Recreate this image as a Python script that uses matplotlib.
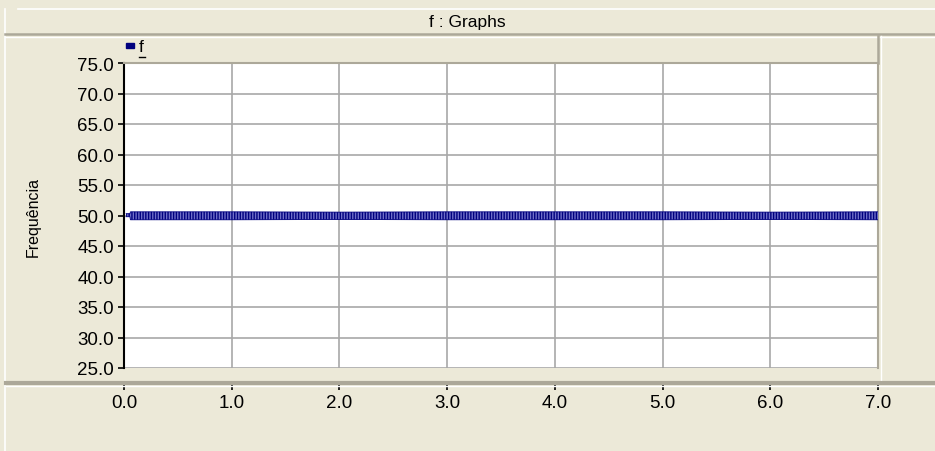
import matplotlib
matplotlib.use("Agg")
import matplotlib.pyplot as plt
from matplotlib.lines import Line2D
from matplotlib.patches import Rectangle

plt.rcParams['font.family'] = ['Liberation Sans', 'DejaVu Sans']

# ---- data ----
title = "f : Graphs"
series_name = "f"
y_label = "Frequência"
x_ticks = [0.0, 1.0, 2.0, 3.0, 4.0, 5.0, 6.0, 7.0]
y_ticks = [25.0, 30.0, 35.0, 40.0, 45.0, 50.0, 55.0, 60.0, 65.0, 70.0, 75.0]
# envelope of the fast oscillation of f around 50 Hz
t_env = [0.02, 0.055, 0.06, 1.0, 2.0, 3.0, 4.0, 5.0, 6.0, 7.0]
f_upper = [50.3, 50.3, 50.6, 50.6, 50.55, 50.6, 50.6, 50.6, 50.55, 50.6]
f_lower = [49.8, 49.8, 49.3, 49.3, 49.35, 49.3, 49.3, 49.3, 49.35, 49.3]

BG = '#ECE9D8'
EDGE = '#ACA899'
NAVY = '#00007E'

W, H = 935, 452
PT = 72 / 100  # points per pixel at dpi 100
fig = plt.figure(figsize=(W / 100, H / 100), dpi=100, facecolor=BG)

def fx(px):
    return px / W

def fy(py):
    return 1 - py / H

# panel decorations (3D look)
fig.add_artist(Line2D([fx(18), fx(935)], [fy(10), fy(10)], color='white', lw=1.2))
fig.add_artist(Line2D([fx(5), fx(5)], [fy(10), fy(452)], color='white', lw=1.2))
fig.add_artist(Line2D([fx(5), fx(935)], [fy(35), fy(35)], color=EDGE, lw=1.8))
fig.add_artist(Line2D([fx(5), fx(935)], [fy(37.5), fy(37.5)], color='white', lw=1.0))
fig.add_artist(Line2D([fx(878), fx(878)], [fy(37), fy(64)], color=EDGE, lw=1.8))
fig.add_artist(Line2D([fx(880.5), fx(880.5)], [fy(37), fy(382)], color='white', lw=1.0))
fig.add_artist(Line2D([fx(6), fx(935)], [fy(384), fy(384)], color=EDGE, lw=3.0))
fig.add_artist(Line2D([fx(6), fx(935)], [fy(386.5), fy(386.5)], color='white', lw=1.0))

fig.text(0.5, fy(23), title, ha='center', va='center', fontsize=12.5, color='black')

# legend entry
fig.add_artist(Rectangle((fx(126), fy(49)), fx(8), 5 / H, color=NAVY))
fig.text(fx(138.5), fy(48), series_name, ha='left', va='center', fontsize=12.5, color='black')
fig.add_artist(Line2D([fx(138.5), fx(145)], [fy(58), fy(58)], color='black', lw=1.0))

# main axes
ax = fig.add_axes([fx(124), fy(369), fx(878 - 124), (369 - 64) / H])
ax.set_facecolor('white')
ax.set_xlim(0, 7)
ax.set_ylim(25, 75)

plt.rcParams['hatch.linewidth'] = 1.0
ax.fill_between(t_env, f_lower, f_upper, facecolor='#7070C8', edgecolor=NAVY,
                hatch='|' * 6, linewidth=0.0, zorder=3)
ax.plot(t_env, f_upper, color=NAVY, lw=0.6, zorder=4)
ax.plot(t_env, f_lower, color=NAVY, lw=0.6, zorder=4)

ax.set_xticks(x_ticks)
ax.set_xticklabels([f"{v:.1f}" for v in x_ticks])
ax.set_yticks(y_ticks)
ax.set_yticklabels([f"{v:.1f}" for v in y_ticks])
ax.grid(True, color='#A8A8A8', lw=1.2)
ax.set_axisbelow(True)

for s in ['top', 'right']:
    ax.spines[s].set_color(EDGE)
    ax.spines[s].set_linewidth(1.5)
ax.spines['left'].set_color('black')
ax.spines['left'].set_linewidth(1.5)
ax.spines['bottom'].set_position(('outward', 15 * PT))
ax.spines['bottom'].set_color('#222222')
ax.spines['bottom'].set_linewidth(1.5)

ax.tick_params(axis='y', direction='out', length=6 * PT, width=1.2, pad=4 * PT,
               labelsize=13.5, colors='black')
ax.tick_params(axis='x', direction='out', length=7 * PT, width=1.2, pad=4 * PT,
               labelsize=13.5, colors='black')

fig.text(fx(33), fy(217), y_label, rotation=90, ha='center', va='center',
         fontsize=11.5, color='black')

fig.savefig('out.png', dpi=100, facecolor=BG)
